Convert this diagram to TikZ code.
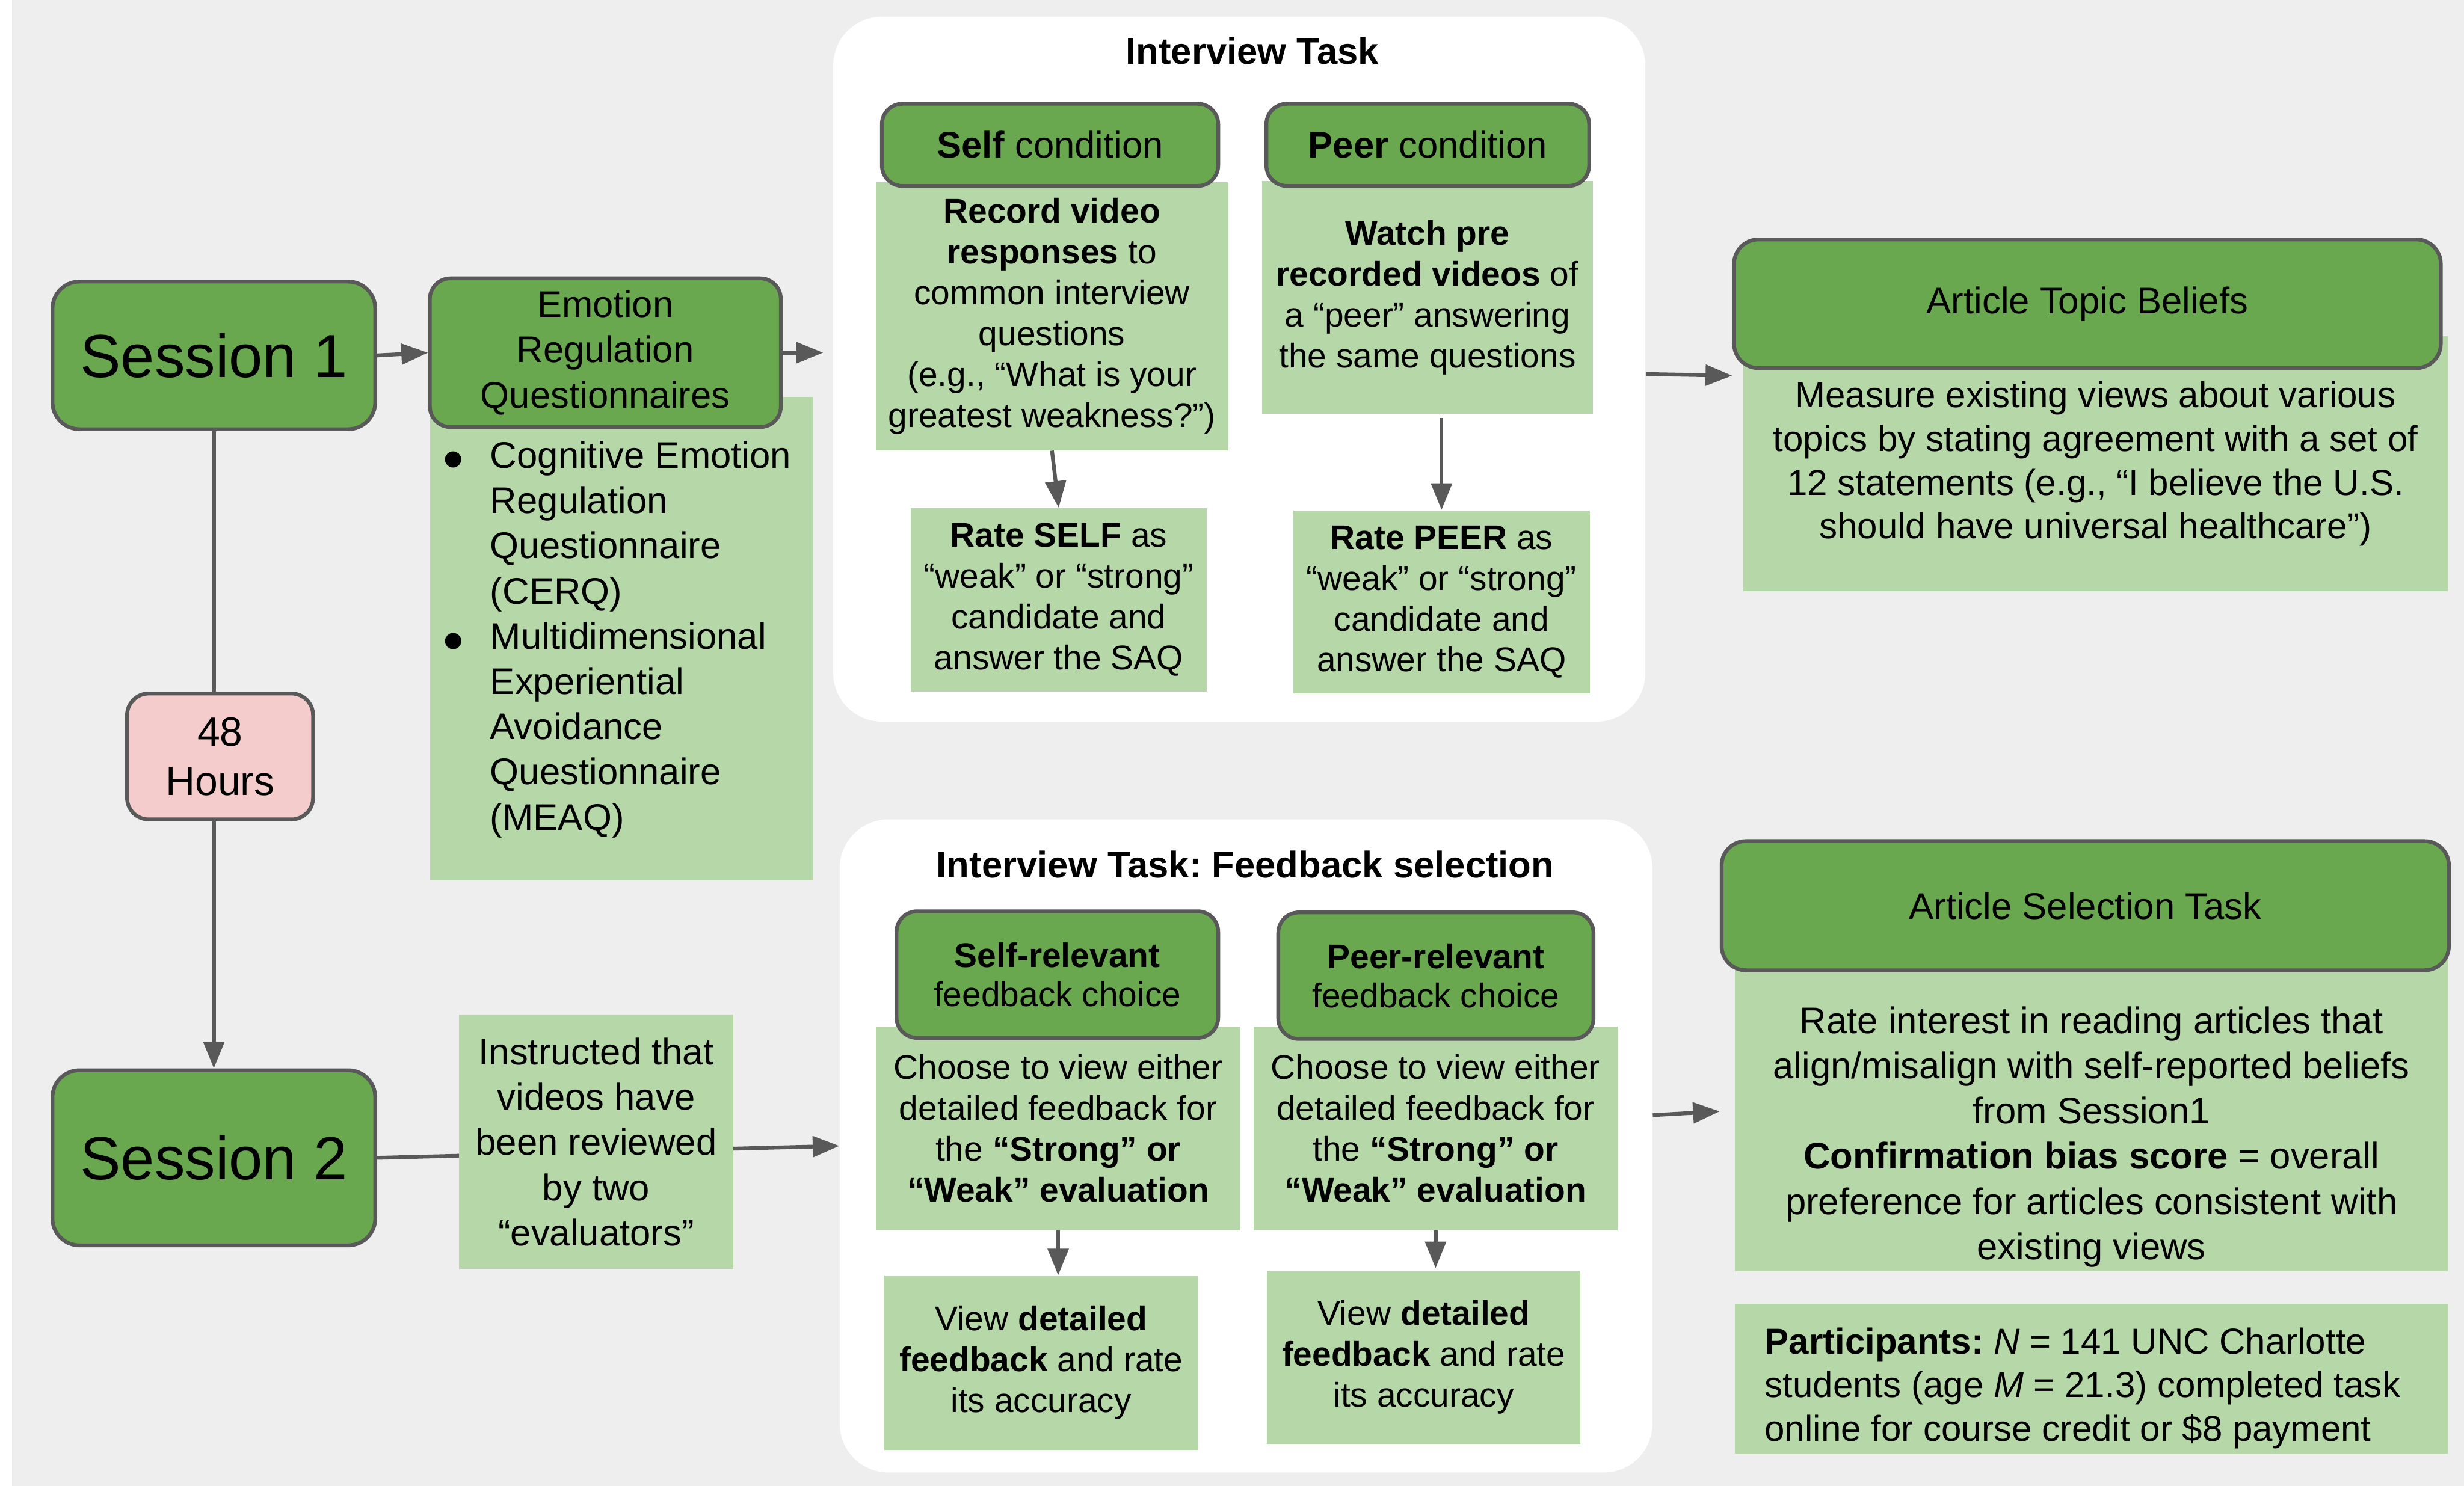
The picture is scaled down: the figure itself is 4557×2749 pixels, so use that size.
\documentclass[tikz,border=0pt]{standalone}
\usepackage{fontspec}
\setmainfont{Liberation Sans}
\usetikzlibrary{arrows.meta}
\definecolor{dkgreen}{HTML}{6AA84F}
\definecolor{ltgreen}{HTML}{B6D7A8}
\definecolor{pinkc}{HTML}{F4CCCC}
\definecolor{edgec}{HTML}{595959}
\definecolor{bgc}{HTML}{EEEEEE}
\pgfdeclarelayer{bglayer}
\pgfdeclarelayer{edgelayer}
\pgfsetlayers{bglayer,edgelayer,main}
\newcommand\fsess{\fontsize{32}{38}\selectfont}
\newcommand\fhrs{\fontsize{21.5}{26}\selectfont}
\newcommand\fnorm{\fontsize{19.5}{23.8}\selectfont}
\newcommand\fsm{\fontsize{18}{21.5}\selectfont}
\newcommand\fsmh{\fontsize{18}{20.7}\selectfont}
\newcommand\fart{\fontsize{19}{23}\selectfont}
\frenchspacing
\begin{document}
\begin{tikzpicture}[x=0.01cm,y=-0.01cm,
 pos/.style n args={4}{minimum width={(#3-#1)*0.01cm}, minimum height={(#4-#2)*0.01cm}, at={({(#1+#3)/2},{(#2+#4)/2})}},
 box/.style={inner sep=0pt, align=center},
 darkbox/.style={box, draw=edgec, line width=2pt, fill=dkgreen, rounded corners=0.38cm},
 lightbox/.style={box, fill=ltgreen},
 pinkbox/.style={box, draw=edgec, line width=2pt, fill=pinkc, rounded corners=0.4cm},
 panel/.style={box, fill=white, rounded corners=0.9cm},
 conn/.style={draw=edgec, line width=2pt},
 arr/.style={conn, -{Triangle[length=14pt,width=10.8pt]}},
]
\useasboundingbox (0,0) rectangle (4557,2749);
\begin{pgfonlayer}{bglayer}
\fill[bgc] (0,0) rectangle (4557,2749);
\fill[white] (0,0) rectangle (22,2749);
% panels
\node[panel, pos={1541}{31}{3043}{1335}] (it) {};
\node[panel, pos={1553}{1516}{3056}{2724}] (fb) {};
\end{pgfonlayer}
\node[font=\fnorm\bfseries] (ittitle) at (2316,94) {Interview Task};
\node[font=\fnorm\bfseries] (fbtitle) at (2303,1599) {Interview Task: Feedback selection};

% left column
\node[darkbox, rounded corners=0.5cm, font=\fsess, pos={97}{521}{694}{794}] (s1) {Session 1};
\node[darkbox, rounded corners=0.5cm, font=\fsess, pos={97}{1980}{694}{2304}] (s2) {Session 2};
\node[pinkbox, font=\fhrs, pos={235}{1283}{579}{1516}] (h48) {48\\Hours};

% questionnaires
\node[lightbox, pos={795}{734}{1503}{1629}] (erqlist) {};
\node[darkbox, font=\fnorm, pos={795}{515}{1444}{790}] (erq) {Emotion\\Regulation\\Questionnaires};
\node[font=\fnorm, align=left, anchor=west, inner sep=0pt] (erqtext) at (906,1183)
 {Cognitive Emotion\\
  Regulation\\
  Questionnaire\\
  (CERQ)\\
  Multidimensional\\
  Experiential\\
  Avoidance\\
  Questionnaire\\
  (MEAQ)};
\fill (838,850) circle (0.15cm);
\fill (838,1186) circle (0.15cm);

\node[lightbox, font=\fnorm, pos={849}{1877}{1356}{2348}] (instr)
 {Instructed that\\videos have\\been reviewed\\by two\\“evaluators”};

% interview task
\node[lightbox, font=\fsm, pos={1620}{337}{2271}{833}] (selfc)
 {\textbf{Record video}\\\textbf{responses} to\\common interview\\questions\\(e.g., “What is your\\greatest weakness?”)};
\node[darkbox, font=\fnorm, pos={1631}{192}{2253}{344}] (selfh) {\textbf{Self} condition};
\node[lightbox, font=\fsm, pos={1684}{940}{2232}{1279}] (rateself)
 {\textbf{Rate SELF} as\\“weak” or “strong”\\candidate and\\answer the SAQ};
\node[lightbox, font=\fsm, pos={2334}{335}{2946}{765}] (peerc)
 {\textbf{Watch pre}\\\textbf{recorded videos} of\\a “peer” answering\\the same questions};
\node[darkbox, font=\fnorm, pos={2342}{192}{2939}{344}] (peerh) {\textbf{Peer} condition};
\node[lightbox, font=\fsm, pos={2392}{944}{2940}{1283}] (ratepeer)
 {\textbf{Rate PEER} as\\“weak” or “strong”\\candidate and\\answer the SAQ};

% feedback selection
\node[lightbox, font=\fsm, pos={1620}{1899}{2294}{2276}] (src)
 {Choose to view either\\detailed feedback for\\the \textbf{“Strong” or}\\\textbf{“Weak” evaluation}};
\node[darkbox, font=\fsmh, pos={1658}{1686}{2253}{1920}] (srh) {\textbf{Self-relevant}\\feedback choice};
\node[lightbox, font=\fsm, pos={1635}{2360}{2216}{2682}] (view1)
 {View \textbf{detailed}\\\textbf{feedback} and rate\\its accuracy};
\node[lightbox, font=\fsm, pos={2318}{1899}{2992}{2276}] (prc)
 {Choose to view either\\detailed feedback for\\the \textbf{“Strong” or}\\\textbf{“Weak” evaluation}};
\node[darkbox, font=\fsmh, pos={2364}{1688}{2947}{1922}] (prh) {\textbf{Peer-relevant}\\feedback choice};
\node[lightbox, font=\fsm, pos={2343}{2351}{2923}{2671}] (view2)
 {View \textbf{detailed}\\\textbf{feedback} and rate\\its accuracy};

% article topic beliefs
\node[lightbox, font=\fart, pos={3224}{622}{4527}{1094}] (atbc)
 {Measure existing views about various\\topics by stating agreement with a set of\\12 statements (e.g., “I believe the U.S.\\should have universal healthcare”)};
\node[darkbox, rounded corners=0.45cm, font=\fnorm, pos={3207}{443}{4514}{681}] (atbh) {Article Topic Beliefs};

% article selection
\node[lightbox, pos={3209}{1771}{4527}{2352}] (astc) {};
\node[darkbox, rounded corners=0.45cm, font=\fnorm, pos={3184}{1556}{4529}{1795}] (asth) {Article Selection Task};
\node[font=\fnorm, align=center, inner sep=0pt] (astt) at (3868,2103)
 {Rate interest in reading articles that\\align/misalign with self-reported beliefs\\from Session1\\\textbf{Confirmation bias score} = overall\\preference for articles consistent with\\existing views};

\node[lightbox, pos={3209}{2412}{4527}{2689}] (part) {};
\node[font=\fart, align=left, anchor=west, inner sep=0pt] (partt) at (3263,2568)
 {\textbf{Participants:} \textit{N} = 141 UNC Charlotte\\students (age \textit{M} = 21.3) completed task\\online for course credit or \$8 payment};

% connectors
\begin{pgfonlayer}{edgelayer}
\draw[arr] (s1.east) -- (erq.west);
\draw[arr] (erq.east) -- ([xshift=-0.18cm]erq.east -| it.west);
\draw[conn] (s1.south) -- (s1.south |- h48.north);
\draw[arr] (h48.south -| s2.north) -- (s2.north);
\draw[arr] (s2.east) -- (fb.west);
\draw[arr] (selfc.south) -- (rateself.north);
\draw[arr] ([yshift=-0.07cm]peerc.south -| ratepeer.north) -- (ratepeer.north);
\draw[arr] (src.south) -- (src.south |- view1.north);
\draw[arr] (prc.south) -- ([yshift=0.04cm]prc.south |- view2.north);
\draw[arr] ([yshift=-0.09cm]it.east) -- ([yshift=-0.12cm]it.east -| atbh.west);
\draw[arr] ([yshift=0.57cm]fb.east) -- ([yshift=0.64cm]fb.east -| asth.west);
\end{pgfonlayer}
\end{tikzpicture}
\end{document}
